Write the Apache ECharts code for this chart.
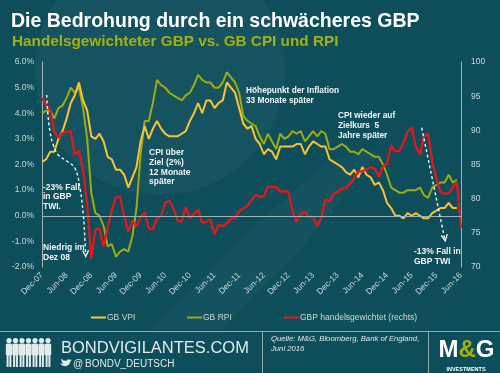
<!DOCTYPE html>
<html><head><meta charset="utf-8">
<script src="https://cdn.jsdelivr.net/npm/echarts@6/dist/echarts.min.js"></script>
<style>html,body{margin:0;padding:0;background:#0e4e5b;}#c{width:500px;height:373px;}</style>
</head><body><div id="c"></div>
<script>
// Categories (monthly, Dec-07 .. Jun-16)
const months = [
 'Dec-07',
 'Jan-08','Feb-08','Mar-08','Apr-08','May-08','Jun-08','Jul-08','Aug-08','Sep-08','Oct-08','Nov-08','Dec-08',
 'Jan-09','Feb-09','Mar-09','Apr-09','May-09','Jun-09','Jul-09','Aug-09','Sep-09','Oct-09','Nov-09','Dec-09',
 'Jan-10','Feb-10','Mar-10','Apr-10','May-10','Jun-10','Jul-10','Aug-10','Sep-10','Oct-10','Nov-10','Dec-10',
 'Jan-11','Feb-11','Mar-11','Apr-11','May-11','Jun-11','Jul-11','Aug-11','Sep-11','Oct-11','Nov-11','Dec-11',
 'Jan-12','Feb-12','Mar-12','Apr-12','May-12','Jun-12','Jul-12','Aug-12','Sep-12','Oct-12','Nov-12','Dec-12',
 'Jan-13','Feb-13','Mar-13','Apr-13','May-13','Jun-13','Jul-13','Aug-13','Sep-13','Oct-13','Nov-13','Dec-13',
 'Jan-14','Feb-14','Mar-14','Apr-14','May-14','Jun-14','Jul-14','Aug-14','Sep-14','Oct-14','Nov-14','Dec-14',
 'Jan-15','Feb-15','Mar-15','Apr-15','May-15','Jun-15','Jul-15','Aug-15','Sep-15','Oct-15','Nov-15','Dec-15',
 'Jan-16','Feb-16','Mar-16','Apr-16','May-16','Jun-16'
];
// GB CPI (VPI), % y/y
const cpi = [
 2.1,
 2.2,2.5,2.5,3.0,3.3,3.8,4.4,4.7,5.2,4.5,4.1,3.1,
 3.0,3.2,2.9,2.3,2.2,1.8,1.8,1.6,1.1,1.5,1.9,2.9,
 3.5,3.0,3.4,3.7,3.4,3.2,3.1,3.1,3.1,3.2,3.3,3.7,
 4.0,4.4,4.0,4.5,4.5,4.2,4.4,4.5,5.2,5.0,4.8,4.2,
 3.6,3.4,3.5,3.0,2.8,2.4,2.6,2.5,2.2,2.7,2.7,2.7,
 2.7,2.8,2.8,2.4,2.7,2.9,2.8,2.7,2.7,2.2,2.1,2.0,
 1.9,1.7,1.6,1.8,1.5,1.9,1.6,1.5,1.2,1.3,1.0,0.5,
 0.3,0.0,0.0,-0.1,0.1,0.0,0.1,0.0,-0.1,-0.1,0.1,0.2,
 0.3,0.3,0.5,0.3,0.3
];
// GB RPI, % y/y
const rpi = [
 4.0,
 4.1,4.1,3.8,4.2,4.3,4.6,5.0,4.8,5.0,4.2,3.0,0.9,
 0.1,0.0,-0.4,-1.2,-1.1,-1.6,-1.4,-1.3,-1.4,-0.8,0.3,2.4,
 3.7,3.7,4.4,5.3,5.1,5.0,4.8,4.7,4.6,4.5,4.7,4.8,
 5.1,5.5,5.3,5.2,5.2,5.0,5.0,5.2,5.6,5.4,5.2,4.8,
 3.9,3.7,3.6,3.5,3.1,2.8,3.2,2.9,2.6,3.2,3.0,3.1,
 3.3,3.2,3.3,2.9,3.1,3.3,3.1,3.3,3.2,2.6,2.6,2.7,
 2.8,2.7,2.5,2.5,2.4,2.6,2.5,2.4,2.3,2.3,2.0,1.6,
 1.1,1.0,0.9,0.9,1.0,1.0,1.0,1.1,0.8,0.7,1.1,1.2,
 1.3,1.3,1.6,1.3,1.4
];
// Trade-weighted GBP (right axis)
const twi = [
 94.7,
 93.7,93.0,89.8,88.9,89.6,89.8,89.9,86.4,87.0,84.2,79.1,71.3,
 75.5,75.6,73.0,75.8,78.3,80.2,80.3,77.5,75.2,76.8,75.9,77.3,
 78.0,75.6,75.5,77.1,77.5,79.4,79.7,78.6,76.8,76.6,78.8,77.1,
 77.8,78.4,76.5,76.6,77.0,74.8,76.2,75.9,76.4,77.1,77.1,78.2,
 78.6,78.9,79.8,80.5,80.3,80.3,81.8,81.7,81.7,81.0,81.1,81.0,
 78.1,76.6,77.8,78.1,77.3,77.3,76.0,77.3,79.9,79.6,80.7,81.0,
 81.5,81.6,82.2,83.0,84.0,84.0,84.3,84.6,84.4,83.2,84.8,85.0,
 87.8,86.9,87.0,88.1,89.8,90.4,87.6,86.5,89.1,89.5,85.4,83.0,
 81.0,80.7,80.8,81.6,82.5,75.7
];
const seriesNames = ['GB VPI','GB RPI','GBP handelsgewichtet (rechts)'];
const leftMin = -2, leftMax = 6, leftStep = 1;
const rightMin = 70, rightMax = 100, rightStep = 5;

const FONT = '"Liberation Sans", Arial, Helvetica, sans-serif';
const C_CPI = '#f8c433', C_RPI = '#9cab12', C_TWI = '#e8161b';
const C_TXT = '#ccd8db', C_AX = '#9fb4b9';

const chart = echarts.init(document.getElementById('c'), null, {renderer:'canvas'});

function txt(x, y, text, font, fill, extra) {
  return {type:'text', x:x, y:y, silent:true, z:50,
    style:Object.assign({text:text, font:font, fill:fill, verticalAlign:'middle'}, extra||{})};
}
function person(cx) {
  return [
    {type:'circle', shape:{cx:cx, cy:340.5, r:2.6}, style:{fill:'#e4ebed'}, silent:true, z:50},
    {type:'rect', shape:{x:cx-3.2, y:343.5, width:6.4, height:12, r:1.5}, style:{fill:'#e4ebed'}, silent:true, z:50},
    {type:'rect', shape:{x:cx-2.4, y:354, width:2, height:13}, style:{fill:'#e4ebed'}, silent:true, z:50},
    {type:'rect', shape:{x:cx+0.4, y:354, width:2, height:13}, style:{fill:'#e4ebed'}, silent:true, z:50}
  ];
}
let people = [];
[9, 15.5, 22, 28.5, 35, 41.5, 48].forEach(c => { people = people.concat(person(c)); });

const dashStyle = {stroke:'#eef3f4', lineWidth:1.4, lineDash:[3,2.5], fill:null};
const headStyle = {stroke:'#eef3f4', lineWidth:1.4, fill:null};

const option = {
  animation:false,
  backgroundColor:'#0e4e5b',
  textStyle:{fontFamily:FONT},
  grid:{left:42, right:39, top:62, bottom:106, containLabel:false},
  legend:[
    {data:[seriesNames[0]], left:86, top:308, icon:'rect', itemWidth:15, itemHeight:2, itemGap:0,
     textStyle:{color:C_TXT, fontSize:8.5, fontFamily:FONT, padding:[0,0,0,-4]}},
    {data:[seriesNames[1]], left:182, top:308, icon:'rect', itemWidth:15, itemHeight:2, itemGap:0,
     textStyle:{color:C_TXT, fontSize:8.5, fontFamily:FONT, padding:[0,0,0,-4]}},
    {data:[seriesNames[2]], left:279, top:308, icon:'rect', itemWidth:15, itemHeight:2, itemGap:0,
     textStyle:{color:C_TXT, fontSize:8.5, fontFamily:FONT, padding:[0,0,0,-4]}}
  ],
  xAxis:{
    type:'category', data:months, boundaryGap:false,
    axisLine:{show:false, onZero:false}, axisTick:{show:false}, splitLine:{show:false},
    axisLabel:{interval:5, rotate:45, margin:7, color:C_TXT, fontSize:8.5, fontFamily:FONT}
  },
  yAxis:[
    {type:'value', min:leftMin, max:leftMax, interval:leftStep, position:'left',
     axisLine:{show:true, lineStyle:{color:C_AX, width:1}}, axisTick:{show:false}, splitLine:{show:false},
     axisLabel:{margin:8, color:C_TXT, fontSize:8.5, fontFamily:FONT, formatter:v => v.toFixed(1) + '%'}},
    {type:'value', min:rightMin, max:rightMax, interval:rightStep, position:'right',
     axisLine:{show:true, lineStyle:{color:C_AX, width:1}}, axisTick:{show:false}, splitLine:{show:false},
     axisLabel:{margin:10, color:C_TXT, fontSize:8.5, fontFamily:FONT}}
  ],
  series:[
    {name:seriesNames[1], type:'line', data:rpi, yAxisIndex:0, symbol:'none', showSymbol:false, z:2,
     lineStyle:{color:C_RPI, width:2}, itemStyle:{color:C_RPI}},
    {name:seriesNames[0], type:'line', data:cpi, yAxisIndex:0, symbol:'none', showSymbol:false, z:3,
     lineStyle:{color:C_CPI, width:2}, itemStyle:{color:C_CPI},
     markLine:{silent:true, symbol:'none', label:{show:false}, lineStyle:{color:C_AX, width:1, type:'solid'},
       data:[{yAxis:0}]}},
    {name:seriesNames[2], type:'line', data:twi, yAxisIndex:1, symbol:'none', showSymbol:false, z:4,
     lineStyle:{color:C_TWI, width:2.2}, itemStyle:{color:C_TWI}}
  ],
  graphic:{elements:[
    // background swooshes
    {type:'circle', shape:{cx:160, cy:70, r:125}, style:{fill:'rgba(255,255,255,0.03)'}, silent:true, z:-10},
    {type:'polygon', shape:{points:[[150,330],[250,230],[330,160],[380,150],[300,250],[220,330]]}, style:{fill:'rgba(255,255,255,0.025)'}, silent:true, z:-10},
    // title
    txt(11, 22, 'Die Bedrohung durch ein schwächeres GBP', 'bold 19.5px ' + FONT, '#ffffff'),
    txt(12, 42, 'Handelsgewichteter GBP vs. GB CPI und RPI', 'bold 15.3px ' + FONT, '#a5b00f'),
    // annotations
    txt(43, 197, '-23% Fall\nin GBP\nTWI.', 'bold 8.5px ' + FONT, '#f2f5f6', {lineHeight:9.2}),
    txt(43, 252.5, 'Niedrig im\nDez 08', 'bold 8.5px ' + FONT, '#f2f5f6', {lineHeight:9.4}),
    txt(149, 167.5, 'CPI über\nZiel (2%)\n12 Monate\nspäter', 'bold 8.5px ' + FONT, '#f2f5f6', {lineHeight:9.7}),
    txt(246, 96, 'Höhepunkt der Inflation\n33 Monate später', 'bold 8.3px ' + FONT, '#f2f5f6', {lineHeight:10.3}),
    txt(338, 125.7, 'CPI wieder auf\nZielkurs  5\nJahre später', 'bold 8.3px ' + FONT, '#f2f5f6', {lineHeight:10}),
    txt(414, 256.5, '-13% Fall in\nGBP TWI', 'bold 8.5px ' + FONT, '#f2f5f6', {lineHeight:9.6}),
    // arrows
    {type:'polyline', shape:{points:[[46.7,95],[47.7,111.7],[50,131.7],[53.3,145],[58.3,155],[66.7,161],[75,168.3],[80,188.3],[83.3,215],[85,241.7],[85.6,255]], smooth:0.4},
     style:dashStyle, silent:true, z:40},
    {type:'polyline', shape:{points:[[82.6,250.5],[85.7,256.5],[88.6,250.3]]}, style:headStyle, silent:true, z:40},
    {type:'line', shape:{x1:421.7, y1:127.7, x2:444.8, y2:239.5}, style:dashStyle, silent:true, z:40},
    {type:'polyline', shape:{points:[[441.3,235.4],[445.2,241],[447.3,234.1]]}, style:headStyle, silent:true, z:40},
    // footer
    {type:'line', shape:{x1:0, y1:331.5, x2:500, y2:331.5}, style:{stroke:'#8fa7ad', lineWidth:1}, silent:true, z:40},
    {type:'line', shape:{x1:262.5, y1:332, x2:262.5, y2:373}, style:{stroke:'#8fa7ad', lineWidth:1}, silent:true, z:40},
    {type:'line', shape:{x1:428.5, y1:332, x2:428.5, y2:373}, style:{stroke:'#8fa7ad', lineWidth:1}, silent:true, z:40},
    txt(61, 348.5, 'BONDVIGILANTES.COM', '16.5px ' + FONT, '#e3eaec'),
    {type:'polygon', shape:{points:[[60,363.5],[62.5,365.8],[66,366.2],[69,364.6],[70.6,361.2],[72,360.2],[70.6,360.4],[71.4,359.3],[70,359.8],[68,359.2],[66.4,360.8],[63.5,360.5],[61.4,358.6],[61.4,360.6],[62.2,361.6],[61.4,361.6],[63.2,363.7]]},
     style:{fill:'#e3eaec'}, silent:true, z:50},
    txt(73, 364.5, '@', '10px ' + FONT, '#e3eaec'),
    txt(85, 364.5, 'BONDV_DEUTSCH', '10px ' + FONT, '#e3eaec'),
    txt(271, 343.5, 'Quelle: M&G, Bloomberg, Bank of England,\nJuni 2016', 'italic 7.7px ' + FONT, '#dfe6e8', {lineHeight:10}),
    txt(438.5, 350.5, '{w|M}{g|&}{w|G}', 'bold 24px ' + FONT, '#ffffff',
      {rich:{w:{fill:'#ffffff', font:'bold 24px ' + FONT}, g:{fill:'#a5b00f', font:'bold 24px ' + FONT}}}),
    txt(466, 369.5, 'INVESTMENTS', 'bold 5.5px ' + FONT, '#ffffff', {align:'center'})
  ].concat(people)}
};
chart.setOption(option);
</script>
</body></html>
